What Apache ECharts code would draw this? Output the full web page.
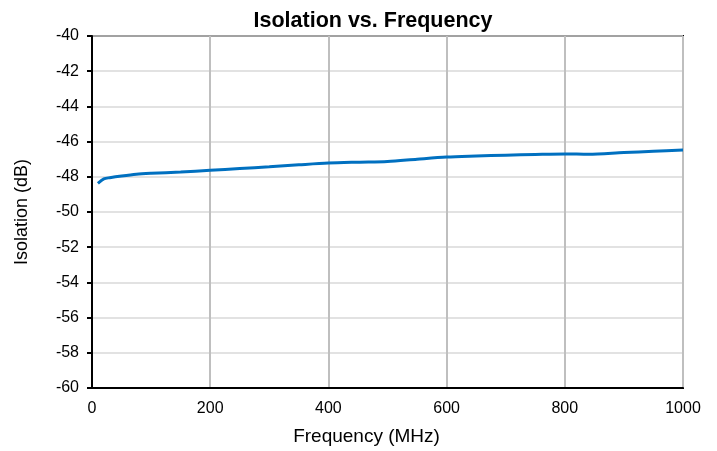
<!DOCTYPE html>
<html>
<head>
<meta charset="utf-8">
<script src="https://cdn.jsdelivr.net/npm/echarts@6/dist/echarts.min.js"></script>
<style>
html,body{margin:0;padding:0;background:#fff;}
#c{width:717px;height:451px;}
</style>
</head>
<body>
<div id="c"></div>
<script>
const frequencies = [10, 20, 30, 50, 75, 100, 150, 200, 250, 300, 350, 400, 450, 500, 550, 600, 650, 700, 750, 800, 840, 900, 950, 1000];
const isolation = [-48.37, -48.12, -48.05, -47.95, -47.85, -47.80, -47.73, -47.63, -47.53, -47.43, -47.32, -47.22, -47.17, -47.13, -47.00, -46.88, -46.82, -46.77, -46.73, -46.70, -46.72, -46.62, -46.55, -46.48];
const titleText = 'Isolation vs. Frequency';
const xName = 'Frequency (MHz)';
const yName = 'Isolation (dB)';

const font = 'Liberation Sans, Arial, sans-serif';
const chart = echarts.init(document.getElementById('c'));
chart.setOption({
  animation: false,
  backgroundColor: '#fff',
  title: {
    text: titleText,
    left: 368, top: 5, textAlign: 'center',
    textStyle: {fontFamily: font, fontSize: 21.5, fontWeight: 'bold', color: '#000'}
  },
  grid: {left: 92, right: 34, top: 36, bottom: 63, show: true, borderColor: '#000', borderWidth: 2, backgroundColor: 'transparent'},
  xAxis: {
    type: 'value', min: 0, max: 1000, interval: 200,
    name: xName, nameLocation: 'middle', nameGap: 39,
    nameTextStyle: {fontFamily: font, fontSize: 19, color: '#000', padding: [0, 42, 0, 0]},
    axisLine: {show: true, lineStyle: {color: '#000', width: 2}},
    axisTick: {show: false},
    axisLabel: {fontFamily: font, fontSize: 16, color: '#000', margin: 13, formatter: v => String(v)},
    splitLine: {show: true, lineStyle: {color: '#bfbfbf', width: 2}}
  },
  yAxis: {
    type: 'value', min: -60, max: -40, interval: 2,
    name: yName, nameLocation: 'middle', nameGap: 61,
    nameTextStyle: {fontFamily: font, fontSize: 18, color: '#000'},
    axisLine: {show: true, lineStyle: {color: '#000', width: 2}},
    axisTick: {show: true, inside: false, length: 5, lineStyle: {color: '#000', width: 2}},
    axisLabel: {fontFamily: font, fontSize: 16, color: '#000', margin: 13},
    splitLine: {show: true, lineStyle: {color: '#d9d9d9', width: 1.5}}
  },
  series: [{
    type: 'line',
    data: frequencies.map((f, i) => [f, isolation[i]]),
    showSymbol: false,
    smooth: 0.3,
    lineStyle: {color: '#0070C0', width: 3},
    itemStyle: {color: '#0070C0'}
  }]
});
</script>
</body>
</html>
